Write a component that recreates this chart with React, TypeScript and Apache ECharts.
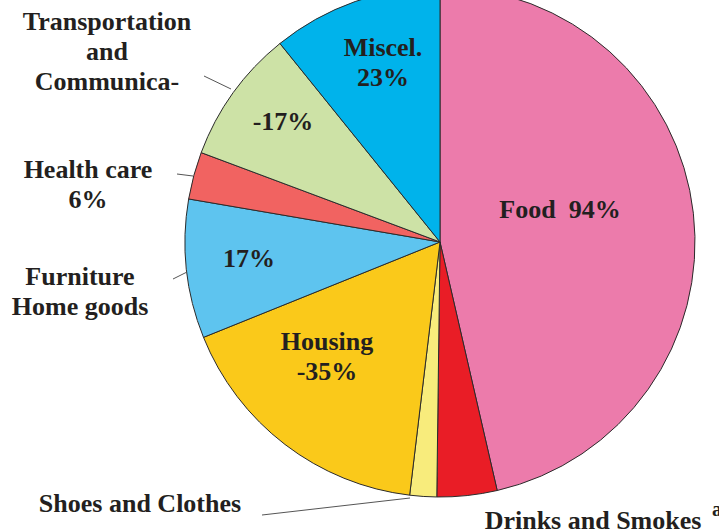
import React, { useEffect, useRef } from "react";
import * as echarts from "echarts";

// ---- data ----
const categories = [
  "Food",
  "Drinks and Smokes",
  "Shoes and Clothes",
  "Housing",
  "Furniture Home goods",
  "Health care",
  "Transportation and Communication",
  "Miscel.",
];
const shares = [46.4, 3.8, 1.7, 17.0, 8.8, 3.0, 8.5, 10.8];
const insideLabels = ["Food  94%", "", "", "Housing\n-35%", "17%", "", "-17%", "Miscel.\n23%"];
const outsideLabels = [
  "",
  "Drinks and Smokes",
  "Shoes and Clothes",
  "",
  "Furniture\nHome goods",
  "Health care\n6%",
  "Transportation\nand\nCommunica-",
  "",
];

// ---- styles / layout ----
const colors = ["#EC7BAB", "#E91D26", "#F8EC7C", "#FAC91A", "#5EC4EF", "#F16361", "#CDE2A6", "#00B3EB"];
const insidePos: (number[] | null)[] = [[560, 209], null, null, [327, 356], [249, 258], null, [283, 121], [383, 62]];
const outsidePos: (number[] | null)[] = [null, [593, 520], [140, 503], null, [80, 291], [88, 184], [107, 51], null];
const leaderLines: (number[][] | null)[] = [
  null,
  null,
  [[410, 498], [262, 515]],
  null,
  [[187, 272], [173, 279]],
  [[193, 176], [177, 174]],
  [[231, 89], [204, 76]],
  null,
];

const textStyle = {
  fontFamily: "'Liberation Serif', 'Times New Roman', serif",
  fontWeight: "bold" as const,
  fontSize: 26,
  lineHeight: 30,
  color: "#231F20",
  overflow: "none" as const,
};

export default function App() {
  const ref = useRef<HTMLDivElement>(null);
  useEffect(() => {
    document.body.style.margin = "0";
    if (!ref.current) return;
    const chart = echarts.init(ref.current, undefined, { renderer: "svg" });
    const center = [440, 242];
    const radius = 255;
    chart.setOption({
      animation: false,
      backgroundColor: "#ffffff",
      series: [
        {
          type: "pie",
          center,
          radius,
          startAngle: 90,
          clockwise: true,
          silent: true,
          emphasis: { disabled: true },
          itemStyle: { borderColor: "#2b2b2b", borderWidth: 1 },
          label: { show: true, position: "inside", ...textStyle },
          labelLine: { show: false },
          labelLayout: (params: any) => {
            const p = insidePos[params.dataIndex];
            if (!p) return {};
            return { x: p[0], y: p[1], align: "center", verticalAlign: "middle" };
          },
          data: categories.map((name, i) => ({
            name,
            value: shares[i],
            itemStyle: { color: colors[i] },
            label: { show: insideLabels[i] !== "", formatter: insideLabels[i] || " " },
          })),
        },
        {
          type: "pie",
          center,
          radius,
          startAngle: 90,
          clockwise: true,
          silent: true,
          z: 3,
          emphasis: { disabled: true },
          itemStyle: { color: "rgba(0,0,0,0)", borderWidth: 0 },
          label: { show: true, position: "outside", alignTo: "none", width: 400, ...textStyle },
          labelLine: { show: true, lineStyle: { color: "#555555", width: 1 } },
          labelLayout: (params: any) => {
            const i = params.dataIndex;
            const p = outsidePos[i];
            if (!p) return {};
            const out: any = { x: p[0], y: p[1], align: "center", verticalAlign: "middle", width: 400 };
            if (leaderLines[i]) out.labelLinePoints = leaderLines[i];
            return out;
          },
          data: categories.map((name, i) => ({
            name,
            value: shares[i],
            label: { show: outsideLabels[i] !== "", formatter: outsideLabels[i] || " " },
            labelLine: { show: !!leaderLines[i] },
          })),
        },
      ],
      graphic: [
        {
          type: "text",
          x: 712,
          y: 509,
          style: {
            text: "a",
            fontFamily: "'Liberation Serif', serif",
            fontWeight: "bold",
            fontSize: 20,
            fill: "#231F20",
            verticalAlign: "middle",
          },
        },
      ],
    });
    return () => chart.dispose();
  }, []);
  return <div ref={ref} style={{ width: 719, height: 530 }} />;
}
